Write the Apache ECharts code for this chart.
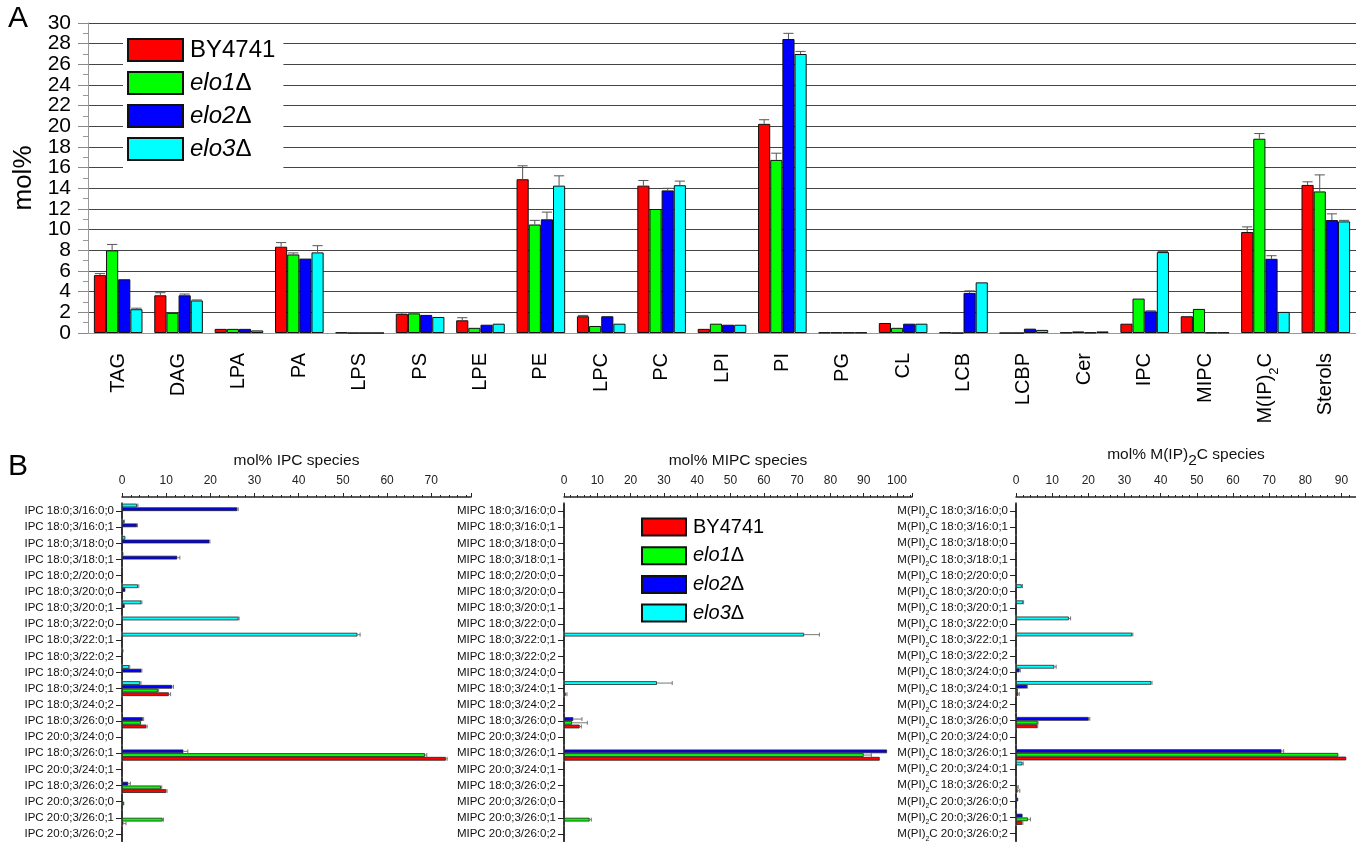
<!DOCTYPE html>
<html>
<head>
<meta charset="utf-8">
<title>Lipid classes and sphingolipid species</title>
<script src="https://cdn.jsdelivr.net/npm/echarts@6/dist/echarts.min.js"></script>
<style>
  html, body { margin: 0; padding: 0; background: #fff; }
  #chart { width: 1356px; height: 842px; }
</style>
</head>
<body>
<div id="chart"></div>
<script>
// strains (legend)
var strains = ['BY4741', 'elo1Δ', 'elo2Δ', 'elo3Δ'];
var colors = ['#ff0000', '#00ff00', '#0000ff', '#00ffff'];

// panel A: lipid classes, mol%
var lipidClasses = ['TAG', 'DAG', 'LPA', 'PA', 'LPS', 'PS', 'LPE', 'PE', 'LPC', 'PC', 'LPI', 'PI', 'PG', 'CL', 'LCB', 'LCBP', 'Cer', 'IPC', 'MIPC', 'M(IP)2C', 'Sterols'];
var classBY4741 = [5.6, 3.65, 0.4, 8.35, 0.05, 1.85, 1.23, 14.88, 1.62, 14.26, 0.4, 20.24, 0.05, 0.97, 0.05, 0, 0.05, 0.9, 1.62, 9.77, 14.33];
var classElo1 = [8.0, 1.95, 0.4, 7.6, 0, 1.9, 0.5, 10.5, 0.68, 12.0, 0.9, 16.75, 0.05, 0.5, 0, 0, 0.15, 3.33, 2.33, 18.8, 13.7];
var classElo2 = [5.2, 3.65, 0.4, 7.2, 0, 1.75, 0.8, 11.0, 1.62, 13.8, 0.8, 28.45, 0.05, 0.9, 3.88, 0.42, 0.05, 2.1, 0.05, 7.18, 10.93];
var classElo3 = [2.3, 3.15, 0.25, 7.8, 0, 1.55, 0.9, 14.26, 0.9, 14.3, 0.8, 27.0, 0.05, 0.9, 4.9, 0.3, 0.15, 7.83, 0.05, 2.04, 10.8];
var classErrBY4741 = [0.15, 0.25, 0, 0.4, 0, 0.1, 0.25, 1.3, 0.08, 0.5, 0, 0.4, 0, 0, 0, 0, 0, 0, 0, 0.5, 0.3];
var classErrElo1 = [0.57, 0, 0, 0.15, 0, 0.05, 0, 0.4, 0, 0, 0, 0.65, 0, 0, 0, 0, 0, 0, 0, 0.5, 1.6];
var classErrElo2 = [0, 0.12, 0, 0, 0, 0, 0, 0.7, 0, 0.2, 0, 0.55, 0, 0, 0.2, 0, 0, 0.05, 0, 0.3, 0.6];
var classErrElo3 = [0.1, 0.05, 0, 0.65, 0, 0, 0, 0.95, 0, 0.4, 0, 0.25, 0, 0, 0, 0, 0, 0.05, 0, 0, 0.1];
var classTickEnds = [0, 30];   // end labels of the mol% axis

// panel B: sphingolipid species
var species = ['18:0;3/16:0;0', '18:0;3/16:0;1', '18:0;3/18:0;0', '18:0;3/18:0;1', '18:0;2/20:0;0', '18:0;3/20:0;0', '18:0;3/20:0;1', '18:0;3/22:0;0', '18:0;3/22:0;1', '18:0;3/22:0;2', '18:0;3/24:0;0', '18:0;3/24:0;1', '18:0;3/24:0;2', '18:0;3/26:0;0', '20:0;3/24:0;0', '18:0;3/26:0;1', '20:0;3/24:0;1', '18:0;3/26:0;2', '20:0;3/26:0;0', '20:0;3/26:0;1', '20:0;3/26:0;2'];

var ipcBY4741 = [0, 0, 0, 0, 0, 0, 0, 0, 0, 0, 0.1, 10.6, 0, 5.5, 0, 73.3, 0, 10.0, 0, 0.3, 0];
var ipcElo1 = [0, 0, 0, 0, 0, 0, 0, 0, 0, 0, 0.1, 8.1, 0, 4.3, 0, 68.6, 0, 8.8, 0.5, 9.2, 0];
var ipcElo2 = [26.1, 3.4, 19.8, 12.5, 0, 0.75, 0.6, 0, 0, 0, 4.4, 11.35, 0.1, 4.7, 0, 13.9, 0, 1.4, 0, 0, 0];
var ipcElo3 = [3.4, 0.45, 0.75, 0.3, 0, 3.6, 4.4, 26.4, 53.3, 0.3, 1.65, 4.1, 0, 0.2, 0, 0, 0, 0, 0, 0, 0];
var ipcErrBY4741 = [0, 0, 0, 0, 0, 0, 0, 0, 0, 0, 0, 0.4, 0, 0.2, 0, 0.3, 0, 0.2, 0, 0.6, 0];
var ipcErrElo1 = [0, 0, 0, 0, 0, 0, 0, 0, 0, 0, 0, 0.2, 0, 0, 0, 0.4, 0, 0.2, 0, 0.2, 0];
var ipcErrElo2 = [0.2, 0.1, 0.1, 0.6, 0, 0, 0, 0, 0, 0, 0.1, 0.3, 0, 0.2, 0, 1.0, 0, 0.5, 0, 0, 0];
var ipcErrElo3 = [0.2, 0.1, 0, 0, 0, 0.2, 0.1, 0.1, 0.6, 0, 0.1, 0.2, 0, 0, 0, 0, 0, 0, 0, 0, 0];

var mipcBY4741 = [0, 0, 0, 0, 0, 0, 0, 0, 0, 0, 0, 0.5, 0, 4.7, 0, 94.8, 0, 0, 0, 0, 0];
var mipcElo1 = [0, 0, 0, 0, 0, 0, 0, 0, 0, 0, 0, 0, 0, 2.4, 0, 90.0, 0, 0, 0, 7.7, 0];
var mipcElo2 = [0, 0, 0, 0, 0, 0, 0, 0, 0, 0, 0, 0, 0, 2.8, 0, 97.0, 0, 0, 0, 0, 0];
var mipcElo3 = [0, 0, 0, 0, 0, 0, 0, 0, 72.1, 0, 0.2, 27.9, 0, 0, 0, 0, 0, 0, 0, 0, 0];
var mipcErrBY4741 = [0, 0, 0, 0, 0, 0, 0, 0, 0, 0, 0, 0.4, 0, 0.5, 0, 0, 0, 0, 0, 0, 0];
var mipcErrElo1 = [0, 0, 0, 0, 0, 0, 0, 0, 0, 0, 0, 0, 0, 4.6, 0, 2.3, 0, 0, 0, 0.5, 0];
var mipcErrElo2 = [0, 0, 0, 0, 0, 0, 0, 0, 0, 0, 0, 0, 0, 2.6, 0, 0, 0, 0, 0, 0, 0];
var mipcErrElo3 = [0, 0, 0, 0, 0, 0, 0, 0, 4.6, 0, 0, 4.6, 0, 0, 0, 0, 0, 0, 0, 0, 0];

var mip2cBY4741 = [0, 0, 0, 0, 0, 0, 0, 0, 0, 0, 0, 0.6, 0, 5.9, 0, 91.3, 0, 0.45, 0, 1.7, 0];
var mip2cElo1 = [0, 0, 0, 0, 0, 0, 0, 0, 0, 0, 0, 0.5, 0, 6.0, 0, 89.1, 0, 0.4, 0, 3.3, 0];
var mip2cElo2 = [0, 0, 0, 0, 0, 0, 0, 0, 0, 0, 1.0, 3.1, 0, 20.1, 0, 73.4, 0, 0, 0.6, 1.8, 0];
var mip2cElo3 = [0, 0, 0, 0, 0, 1.6, 2.0, 14.6, 32.1, 0, 10.6, 37.4, 0, 0, 0.2, 0, 1.8, 0, 0, 0, 0];
var mip2cErrBY4741 = [0, 0, 0, 0, 0, 0, 0, 0, 0, 0, 0, 0.3, 0, 0.1, 0, 0, 0, 0.6, 0, 0.2, 0];
var mip2cErrElo1 = [0, 0, 0, 0, 0, 0, 0, 0, 0, 0, 0, 0, 0, 0.1, 0, 0, 0, 0.2, 0, 0.7, 0];
var mip2cErrElo2 = [0, 0, 0, 0, 0, 0, 0, 0, 0, 0, 0.2, 0.1, 0, 0.3, 0, 0.6, 0, 0, 0, 0, 0];
var mip2cErrElo3 = [0, 0, 0, 0, 0, 0.2, 0.1, 0.5, 0.2, 0, 0.5, 0.2, 0, 0, 0, 0, 0.2, 0, 0, 0, 0];

var FONT = '"Liberation Sans", Arial, sans-serif';
var TOP_GAP = 0.195;   // barCategoryGap of panel A
var SUB_GAP = 0.08;    // barCategoryGap of panel B

var chart = echarts.init(document.getElementById('chart'), null, { renderer: 'canvas' });

function legendLabel(name) {
    if (name === 'BY4741') return name;
    return '{i|' + name.slice(0, -1) + '}{d|Δ}';
}

// whisker above a vertical bar (panel A)
function vErr(s) {
    return function (params, api) {
        var c = api.value(0), v = api.value(1), e = api.value(2);
        var band = api.size([1, 0])[0];
        var w = band * (1 - TOP_GAP) / 4;
        var p0 = api.coord([c, v]);
        var p1 = api.coord([c, v + e]);
        var x = p0[0] + (s - 1.5) * w;
        var cap = w * 0.42;
        var st = { stroke: '#555', lineWidth: 1 };
        return { type: 'group', children: [
            { type: 'line', shape: { x1: x, y1: p0[1], x2: x, y2: p1[1] }, style: st },
            { type: 'line', shape: { x1: x - cap, y1: p1[1], x2: x + cap, y2: p1[1] }, style: st }
        ] };
    };
}

// whisker right of a horizontal bar (panel B); k = slot from top
function hErr(k) {
    return function (params, api) {
        var v = api.value(0), c = api.value(1), e = api.value(2);
        var band = api.size([0, 1])[1];
        var h = band * (1 - SUB_GAP) / 4;
        var p0 = api.coord([v, c]);
        var p1 = api.coord([v + e, c]);
        var y = p0[1] + (k - 1.5) * h;
        var st = { stroke: '#777', lineWidth: 1 };
        return { type: 'group', children: [
            { type: 'line', shape: { x1: p0[0], y1: y, x2: p1[0], y2: y }, style: st },
            { type: 'line', shape: { x1: p1[0], y1: y - 2, x2: p1[0], y2: y + 2 }, style: st }
        ] };
    };
}

var series = [];

// panel A bars + whiskers
var classVals = [classBY4741, classElo1, classElo2, classElo3];
var classErrs = [classErrBY4741, classErrElo1, classErrElo2, classErrElo3];
classVals.forEach(function (vals, s) {
    series.push({
        type: 'bar', name: strains[s], xAxisIndex: 0, yAxisIndex: 0,
        data: vals, barGap: '0%', barCategoryGap: (TOP_GAP * 100) + '%',
        itemStyle: { color: colors[s], borderColor: '#111', borderWidth: 1 },
        z: 2
    });
});
classVals.forEach(function (vals, s) {
    var d = [];
    vals.forEach(function (v, i) { if (classErrs[s][i] > 0) d.push([i, v, classErrs[s][i]]); });
    series.push({
        type: 'custom', xAxisIndex: 0, yAxisIndex: 0, renderItem: vErr(s),
        data: d, encode: { x: 0, y: 1 }, z: 5, silent: true
    });
});

// panel B: three grids
var panels = [
    { vals: [ipcBY4741, ipcElo1, ipcElo2, ipcElo3], errs: [ipcErrBY4741, ipcErrElo1, ipcErrElo2, ipcErrElo3] },
    { vals: [mipcBY4741, mipcElo1, mipcElo2, mipcElo3], errs: [mipcErrBY4741, mipcErrElo1, mipcErrElo2, mipcErrElo3] },
    { vals: [mip2cBY4741, mip2cElo1, mip2cElo2, mip2cElo3], errs: [mip2cErrBY4741, mip2cErrElo1, mip2cErrElo2, mip2cErrElo3] }
];
panels.forEach(function (p, g) {
    var ax = g + 1;
    // elo3 first so it sits on top of each group, BY4741 at the bottom
    [3, 2, 1, 0].forEach(function (s) {
        series.push({
            type: 'bar', name: strains[s], xAxisIndex: ax, yAxisIndex: ax,
            data: p.vals[s], barGap: '0%', barCategoryGap: (SUB_GAP * 100) + '%',
            itemStyle: { color: colors[s], borderColor: '#222', borderWidth: 0.8 },
            z: 2
        });
    });
    [3, 2, 1, 0].forEach(function (s, k) {
        var d = [];
        p.vals[s].forEach(function (v, i) { if (p.errs[s][i] > 0) d.push([v, i, p.errs[s][i]]); });
        series.push({
            type: 'custom', xAxisIndex: ax, yAxisIndex: ax, renderItem: hErr(k),
            data: d, encode: { x: 0, y: 1 }, z: 5, silent: true
        });
    });
});

var prefixes = ['IPC ', 'MIPC ', 'M(PI)2C '];
var axisNames = ['mol% IPC species', 'mol% MIPC species', 'mol% M(IP){s|2}C species'];
var axisMax = [79, 104.5, 94];

var xAxes = [{
    type: 'category', gridIndex: 0, data: lipidClasses,
    axisLine: { lineStyle: { color: '#999', width: 1 } },
    axisTick: { alignWithLabel: true, length: 10, lineStyle: { color: '#888' } },
    axisLabel: {
        rotate: 90, interval: 0, margin: 20, fontSize: 20, color: '#000', fontFamily: FONT,
        formatter: function (v) { return v === 'M(IP)2C' ? 'M(IP){s|2}C' : v; },
        rich: { s: { fontSize: 13, fontFamily: FONT, color: '#000', verticalAlign: 'bottom', lineHeight: 30 } }
    }
}];
var yAxes = [{
    type: 'value', gridIndex: 0, min: 0, max: 30, interval: 2,
    name: 'mol%', nameLocation: 'middle', nameGap: 34,
    nameTextStyle: { fontSize: 26, color: '#000', fontFamily: FONT },
    axisLine: { show: true, lineStyle: { color: '#999', width: 1 } },
    axisTick: { show: true, length: 10, lineStyle: { color: '#888' } },
    minorTick: { show: true, splitNumber: 2, length: 5, lineStyle: { color: '#999' } },
    axisLabel: { fontSize: 21, margin: 17, color: '#000', fontFamily: FONT },
    splitLine: { show: true, lineStyle: { color: '#444', width: 1 } }
}];
[0, 1, 2].forEach(function (g) {
    var ax = g + 1;
    xAxes.push({
        type: 'value', gridIndex: ax, position: 'top', offset: 6,
        min: 0, max: axisMax[g], interval: 10,
        name: axisNames[g], nameLocation: 'middle', nameGap: 28,
        nameTextStyle: { fontSize: 15.5, color: '#111', fontFamily: FONT,
            rich: { s: { fontSize: 15.5, fontFamily: FONT, color: '#111', verticalAlign: 'bottom', lineHeight: 28 } } },
        axisLine: { show: true, lineStyle: { color: '#222', width: 1.5 } },
        axisTick: { show: true, length: 4, lineStyle: { color: '#222' } },
        minorTick: { show: true, splitNumber: 5, length: 2, lineStyle: { color: '#222' } },
        axisLabel: { fontSize: 12, margin: 10, color: '#222', fontFamily: FONT, showMinLabel: true, showMaxLabel: false },
        splitLine: { show: false }
    });
    yAxes.push({
        type: 'category', gridIndex: ax, inverse: true,
        data: species.map(function (sp) { return prefixes[g] + sp; }),
        axisLine: { show: true, lineStyle: { color: '#222', width: 1.5 } },
        axisTick: { show: true, alignWithLabel: true, length: 6, lineStyle: { color: '#222' } },
        axisLabel: {
            interval: 0, fontSize: 11.5, margin: 8, color: '#111', fontFamily: FONT,
            formatter: function (v) { return v.replace('M(PI)2C', 'M(PI){s|2}C'); },
            rich: { s: { fontSize: 7, fontFamily: FONT, color: '#111', verticalAlign: 'bottom', lineHeight: 17 } }
        }
    });
});
// extra axis on panel A carrying only the 0 and 30 labels, which the main axis drops as overlapping
yAxes.push({
    type: 'value', gridIndex: 0, position: 'left', min: 0, max: 30, interval: 2,
    axisLine: { show: false }, axisTick: { show: false }, splitLine: { show: false },
    axisLabel: {
        fontSize: 21, margin: 17, color: '#000', fontFamily: FONT, showMinLabel: true, showMaxLabel: true,
        formatter: function (v) { return classTickEnds.indexOf(v) >= 0 ? String(v) : ''; }
    }
});

var legendRich = {
    i: { fontStyle: 'italic', fontFamily: FONT, color: '#000' },
    d: { fontFamily: FONT, color: '#000' }
};

var option = {
    backgroundColor: '#fff',
    animation: false,
    title: [
        { text: 'A', left: 8, top: 4, padding: 0, textStyle: { fontSize: 30, fontWeight: 'normal', color: '#000', fontFamily: FONT } },
        { text: 'B', left: 8, top: 452, padding: 0, textStyle: { fontSize: 30, fontWeight: 'normal', color: '#000', fontFamily: FONT } }
    ],
    legend: [
        {
            data: strains, orient: 'vertical', left: 123, top: 30,
            padding: [8, 8, 8, 4], itemWidth: 55, itemHeight: 22, itemGap: 9,
            backgroundColor: '#fff', icon: 'rect', selectedMode: false,
            formatter: legendLabel,
            textStyle: {
                fontSize: 24, color: '#000', fontFamily: FONT, padding: [0, 0, 0, 2],
                rich: {
                    i: Object.assign({ fontSize: 24 }, legendRich.i),
                    d: Object.assign({ fontSize: 24 }, legendRich.d)
                }
            }
        },
        {
            data: strains, orient: 'vertical', left: 641, top: 517,
            padding: 0, itemWidth: 44, itemHeight: 17, itemGap: 8.7,
            icon: 'rect', selectedMode: false,
            formatter: legendLabel,
            textStyle: {
                fontSize: 20, color: '#000', fontFamily: FONT, padding: [0, 0, 0, 2],
                rich: {
                    i: Object.assign({ fontSize: 20 }, legendRich.i),
                    d: Object.assign({ fontSize: 20 }, legendRich.d)
                }
            }
        }
    ],
    grid: [
        { left: 88, right: -10, top: 23, bottom: 509 },
        { left: 122, right: 885, top: 503, bottom: -3 },
        { left: 564, right: 444, top: 503, bottom: -3 },
        { left: 1016, right: -4, top: 503, bottom: -3 }
    ],
    xAxis: xAxes,
    yAxis: yAxes,
    series: series
};

chart.setOption(option);
</script>
</body>
</html>
